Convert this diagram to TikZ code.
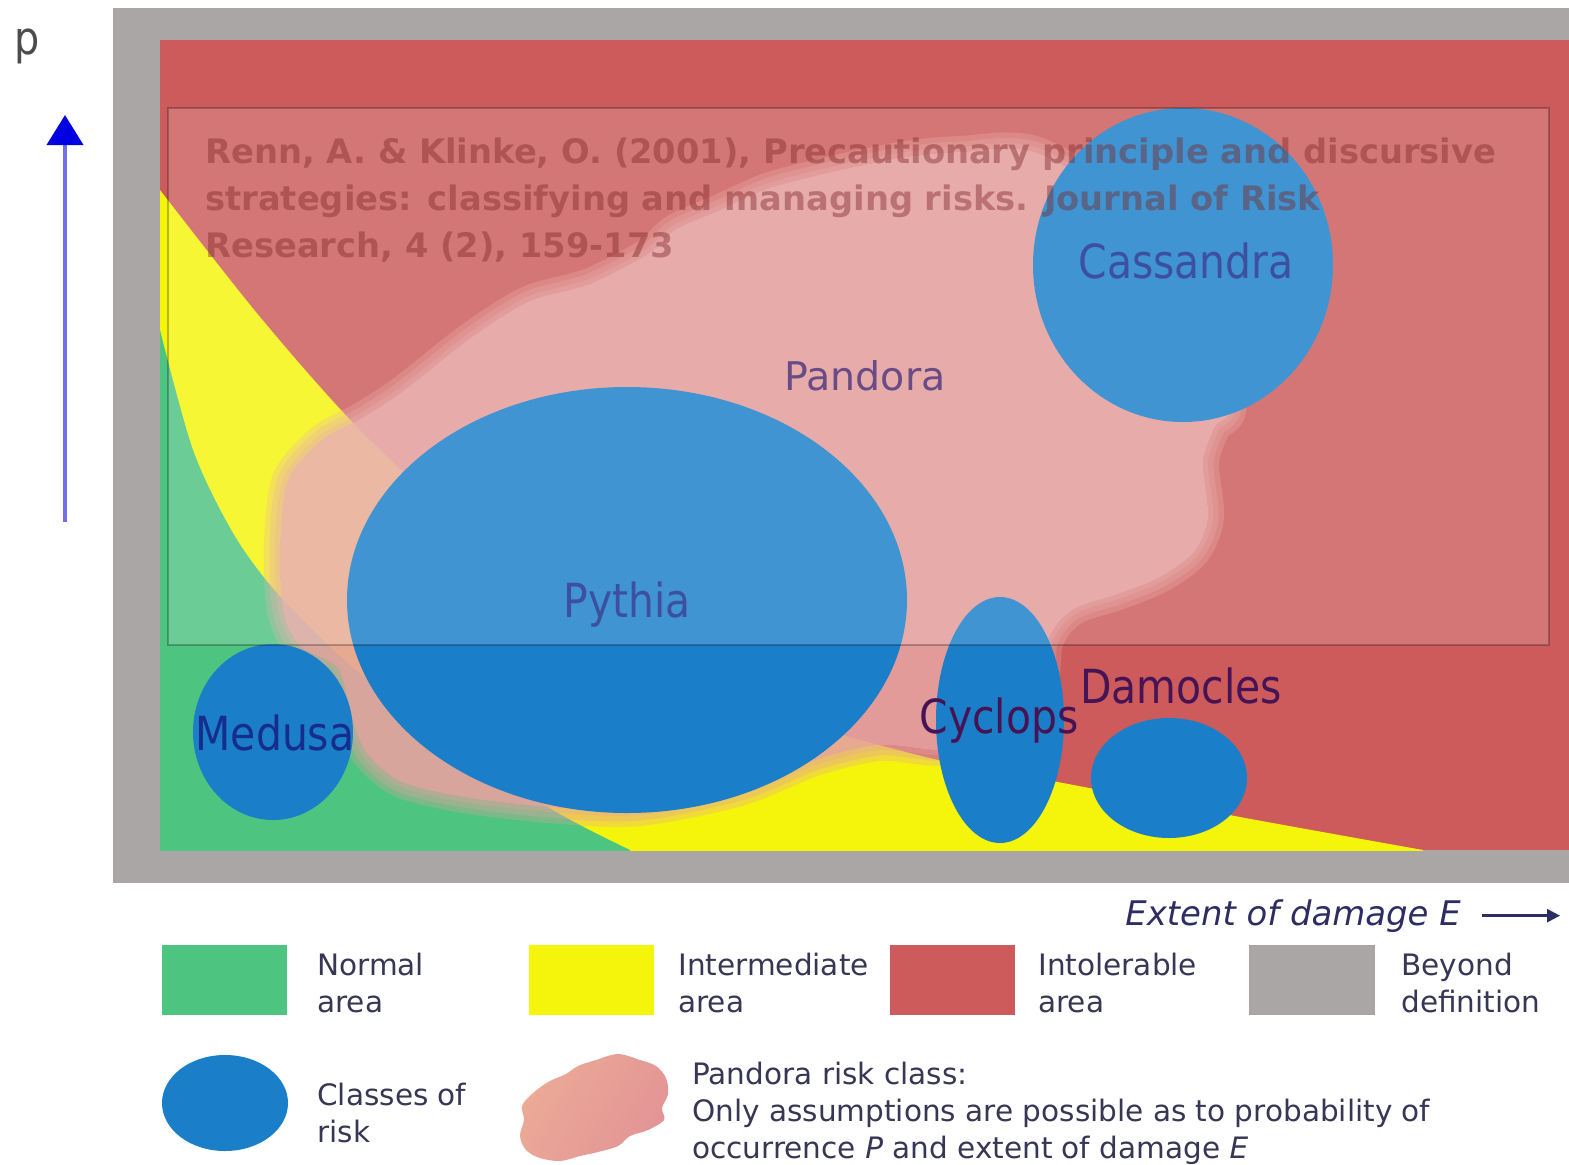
\documentclass[tikz,border=0pt]{standalone}
\usepackage{fontspec}
\setmainfont{DejaVu Sans}
\newfontfamily\labfont[FakeStretch=0.87]{DejaVu Sans}
\usetikzlibrary{arrows.meta}

\definecolor{beyond}{RGB}{170,166,166}
\definecolor{intol}{RGB}{205,91,91}
\definecolor{inter}{RGB}{245,245,12}
\definecolor{normal}{RGB}{77,196,128}
\definecolor{riskblue}{RGB}{26,127,200}
\definecolor{pandorapink}{RGB}{230,162,160}
\definecolor{legendpink}{RGB}{226,148,150}
\definecolor{legendpeach}{RGB}{236,170,150}
\definecolor{labnavy}{RGB}{22,45,140}
\definecolor{labpurple}{RGB}{75,40,110}
\definecolor{labplum}{RGB}{70,20,85}
\definecolor{legtext}{RGB}{55,55,85}
\definecolor{axisnavy}{RGB}{45,45,100}
\definecolor{citered}{RGB}{125,35,35}
\definecolor{shaftblue}{RGB}{112,112,232}
\definecolor{headblue}{RGB}{0,0,225}

% outline of the Pandora risk class cloud
\newcommand\pandorashape{plot[smooth cycle, tension=0.5] coordinates {
  (322,440) (362,418) (402,392) (460,346) (500,318) (535,299) (590,284)
  (648,254) (675,230) (720,210) (770,188) (832,172) (900,158) (960,152)
  (1040,154) (1150,232) (1228,395) (1214,428) (1203,462) (1208,517)
  (1194,552) (1160,577) (1118,594) (1072,610) (1048,640) (1038,700)
  (988,742) (938,750) (880,745) (815,760) (740,790) (640,810) (560,808)
  (470,798) (402,782) (366,752) (350,712) (338,668) (300,646) (283,610)
  (280,545) (288,480)}}

\begin{document}
\begin{tikzpicture}[x=0.02cm, y=-0.02cm,
  risklabel/.style={font=\labfont\fontsize{26.75pt}{30pt}\selectfont, inner sep=0, anchor=base},
  citeline/.style={font=\bfseries\fontsize{19.2pt}{26pt}\selectfont, text=citered, text opacity=0.42, inner sep=0, anchor=base west},
  legendline/.style={font=\fontsize{16.8pt}{21pt}\selectfont, text=legtext, inner sep=0, anchor=base west},
  swatch/.style={inner sep=0, minimum width=2.52cm, minimum height=1.4cm},
  haze/.style={pandorapink, opacity=0.3, line join=round},
]
\useasboundingbox (0,0) rectangle (1569,1164);
\fill[white] (0,0) rectangle (1569,1164);

% frame: beyond definition, intolerable background
\fill[beyond] (113,8) rectangle (1569,883);
\fill[intol] (160,40) rectangle (1569,850);

% intermediate and normal areas
\begin{scope}
  \clip (160,40) rectangle (1569,850);
  \fill[inter] plot[smooth] coordinates {(160,190) (260,317) (360,430) (480,540)
    (620,640) (780,715) (950,763) (1063,783) (1240,817) (1423,850)}
    -- (1423,860) -- (150,860) -- (150,190) -- cycle;
  \fill[normal] plot[smooth] coordinates {(160,330) (193,450) (233,533) (277,593)
    (350,665) (450,745) (558,813) (630,850)}
    -- (630,860) -- (150,860) -- (150,330) -- cycle;
\end{scope}

% Pandora cloud: a soft rim outside the outline, then the body
\begin{scope}[even odd rule]
  \clip (160,40) rectangle (1569,850) \pandorashape;
  \draw[haze, line width=0.64cm] \pandorashape;
  \draw[haze, line width=0.42cm] \pandorashape;
  \draw[haze, line width=0.2cm] \pandorashape;
\end{scope}
\fill[pandorapink, opacity=0.9] \pandorashape;

% classes of risk
\fill[riskblue] (1183,265) ellipse [x radius=150, y radius=157];
\fill[riskblue] (627,600) ellipse [x radius=280, y radius=213];
\fill[riskblue] (273,732) ellipse [x radius=80, y radius=88];
\fill[riskblue] (1000,720) ellipse [x radius=64, y radius=123];
\fill[riskblue] (1169,778) ellipse [x radius=78, y radius=60];

\node[risklabel, text=labnavy] (cassandra) at (1186,278) {Cassandra};
\node[font=\fontsize{22.5pt}{26pt}\selectfont, text=labpurple, inner sep=0, anchor=base] (pandora) at (865,390) {Pandora};
\node[risklabel, text=labnavy] (pythia) at (627,617) {Pythia};
\node[risklabel, text=labnavy] (medusa) at (275,750) {Medusa};
\node[risklabel, text=labplum] (cyclops) at (999,733) {Cyclops};
\node[risklabel, text=labplum] (damocles) at (1181,703) {Damocles};

% reference box
\fill[white, fill opacity=0.17] (168,108) rectangle (1549,645);
\draw[black, draw opacity=0.25, line width=0.04cm] (168,108) rectangle (1549,645);
\node[citeline] (cite1) at (205,163) {Renn, A. \& Klinke, O. (2001), Precautionary principle and discursive};
\node[citeline] (cite2) at (205,210) {strategies: classifying and managing risks. Journal of Risk};
\node[citeline] (cite3) at (205,257) {Research, 4 (2), 159-173};

% probability axis
\node[font=\labfont\fontsize{26pt}{30pt}\selectfont, text=black!70, inner sep=0, anchor=base] (plabel) at (27,54) {p};
\coordinate (pbottom) at (65,522);
\coordinate (ptop) at (65,115);
\draw[shaftblue, line width=0.08cm, -{Triangle[length=0.6cm, width=0.72cm, color=headblue]}] (pbottom) -- (ptop);

% damage axis
\node[font=\itshape\fontsize{19.3pt}{23pt}\selectfont, text=axisnavy, inner sep=0, anchor=base west] (extent) at (1125,925) {Extent of damage \textit{E}};
\coordinate (etip) at (1560,913);
\draw[axisnavy, line width=0.05cm, -{Triangle[length=0.26cm, width=0.26cm]}] ([xshift=0.42cm]extent.east) -- (extent.east -| etip);

% legend, first row
\node[swatch, fill=normal] (swnormal) at (224.5,980) {};
\node[swatch, fill=inter] (swinter) at (591.5,980) {};
\node[swatch, fill=intol] (swintol) at (952.5,980) {};
\node[swatch, fill=beyond] (swbeyond) at (1311.5,980) {};
\node[legendline] (tnormal1) at (317,975) {Normal};
\node[legendline] (tnormal2) at (317,1012) {area};
\node[legendline] (tinter1) at (678,975) {Intermediate};
\node[legendline] (tinter2) at (678,1012) {area};
\node[legendline] (tintol1) at (1038,975) {Intolerable};
\node[legendline] (tintol2) at (1038,1012) {area};
\node[legendline] (tbeyond1) at (1401,975) {Beyond};
\node[legendline] (tbeyond2) at (1401,1012) {definition};

% legend, second row
\fill[riskblue] (225,1103) ellipse [x radius=63, y radius=48];
\node[legendline] (tclass1) at (317,1105) {Classes of};
\node[legendline] (tclass2) at (317,1142) {risk};
\shade[left color=legendpeach, right color=legendpink, shading angle=60]
  plot[smooth cycle, tension=0.55] coordinates {(548,1082) (566,1074) (578,1066)
  (596,1060) (618,1054) (640,1060) (656,1066) (666,1078) (668,1094) (662,1108)
  (664,1120) (648,1130) (630,1136) (618,1146) (598,1152) (580,1156) (560,1161)
  (540,1158) (526,1150) (520,1136) (524,1120) (522,1106) (532,1094)};
\node[legendline] (tpandora1) at (692,1084) {Pandora risk class:};
\node[legendline] (tpandora2) at (692,1121) {Only assumptions are possible as to probability of};
\node[legendline] (tpandora3) at (692,1158) {occurrence \textit{P} and extent of damage \textit{E}};
\end{tikzpicture}
\end{document}
